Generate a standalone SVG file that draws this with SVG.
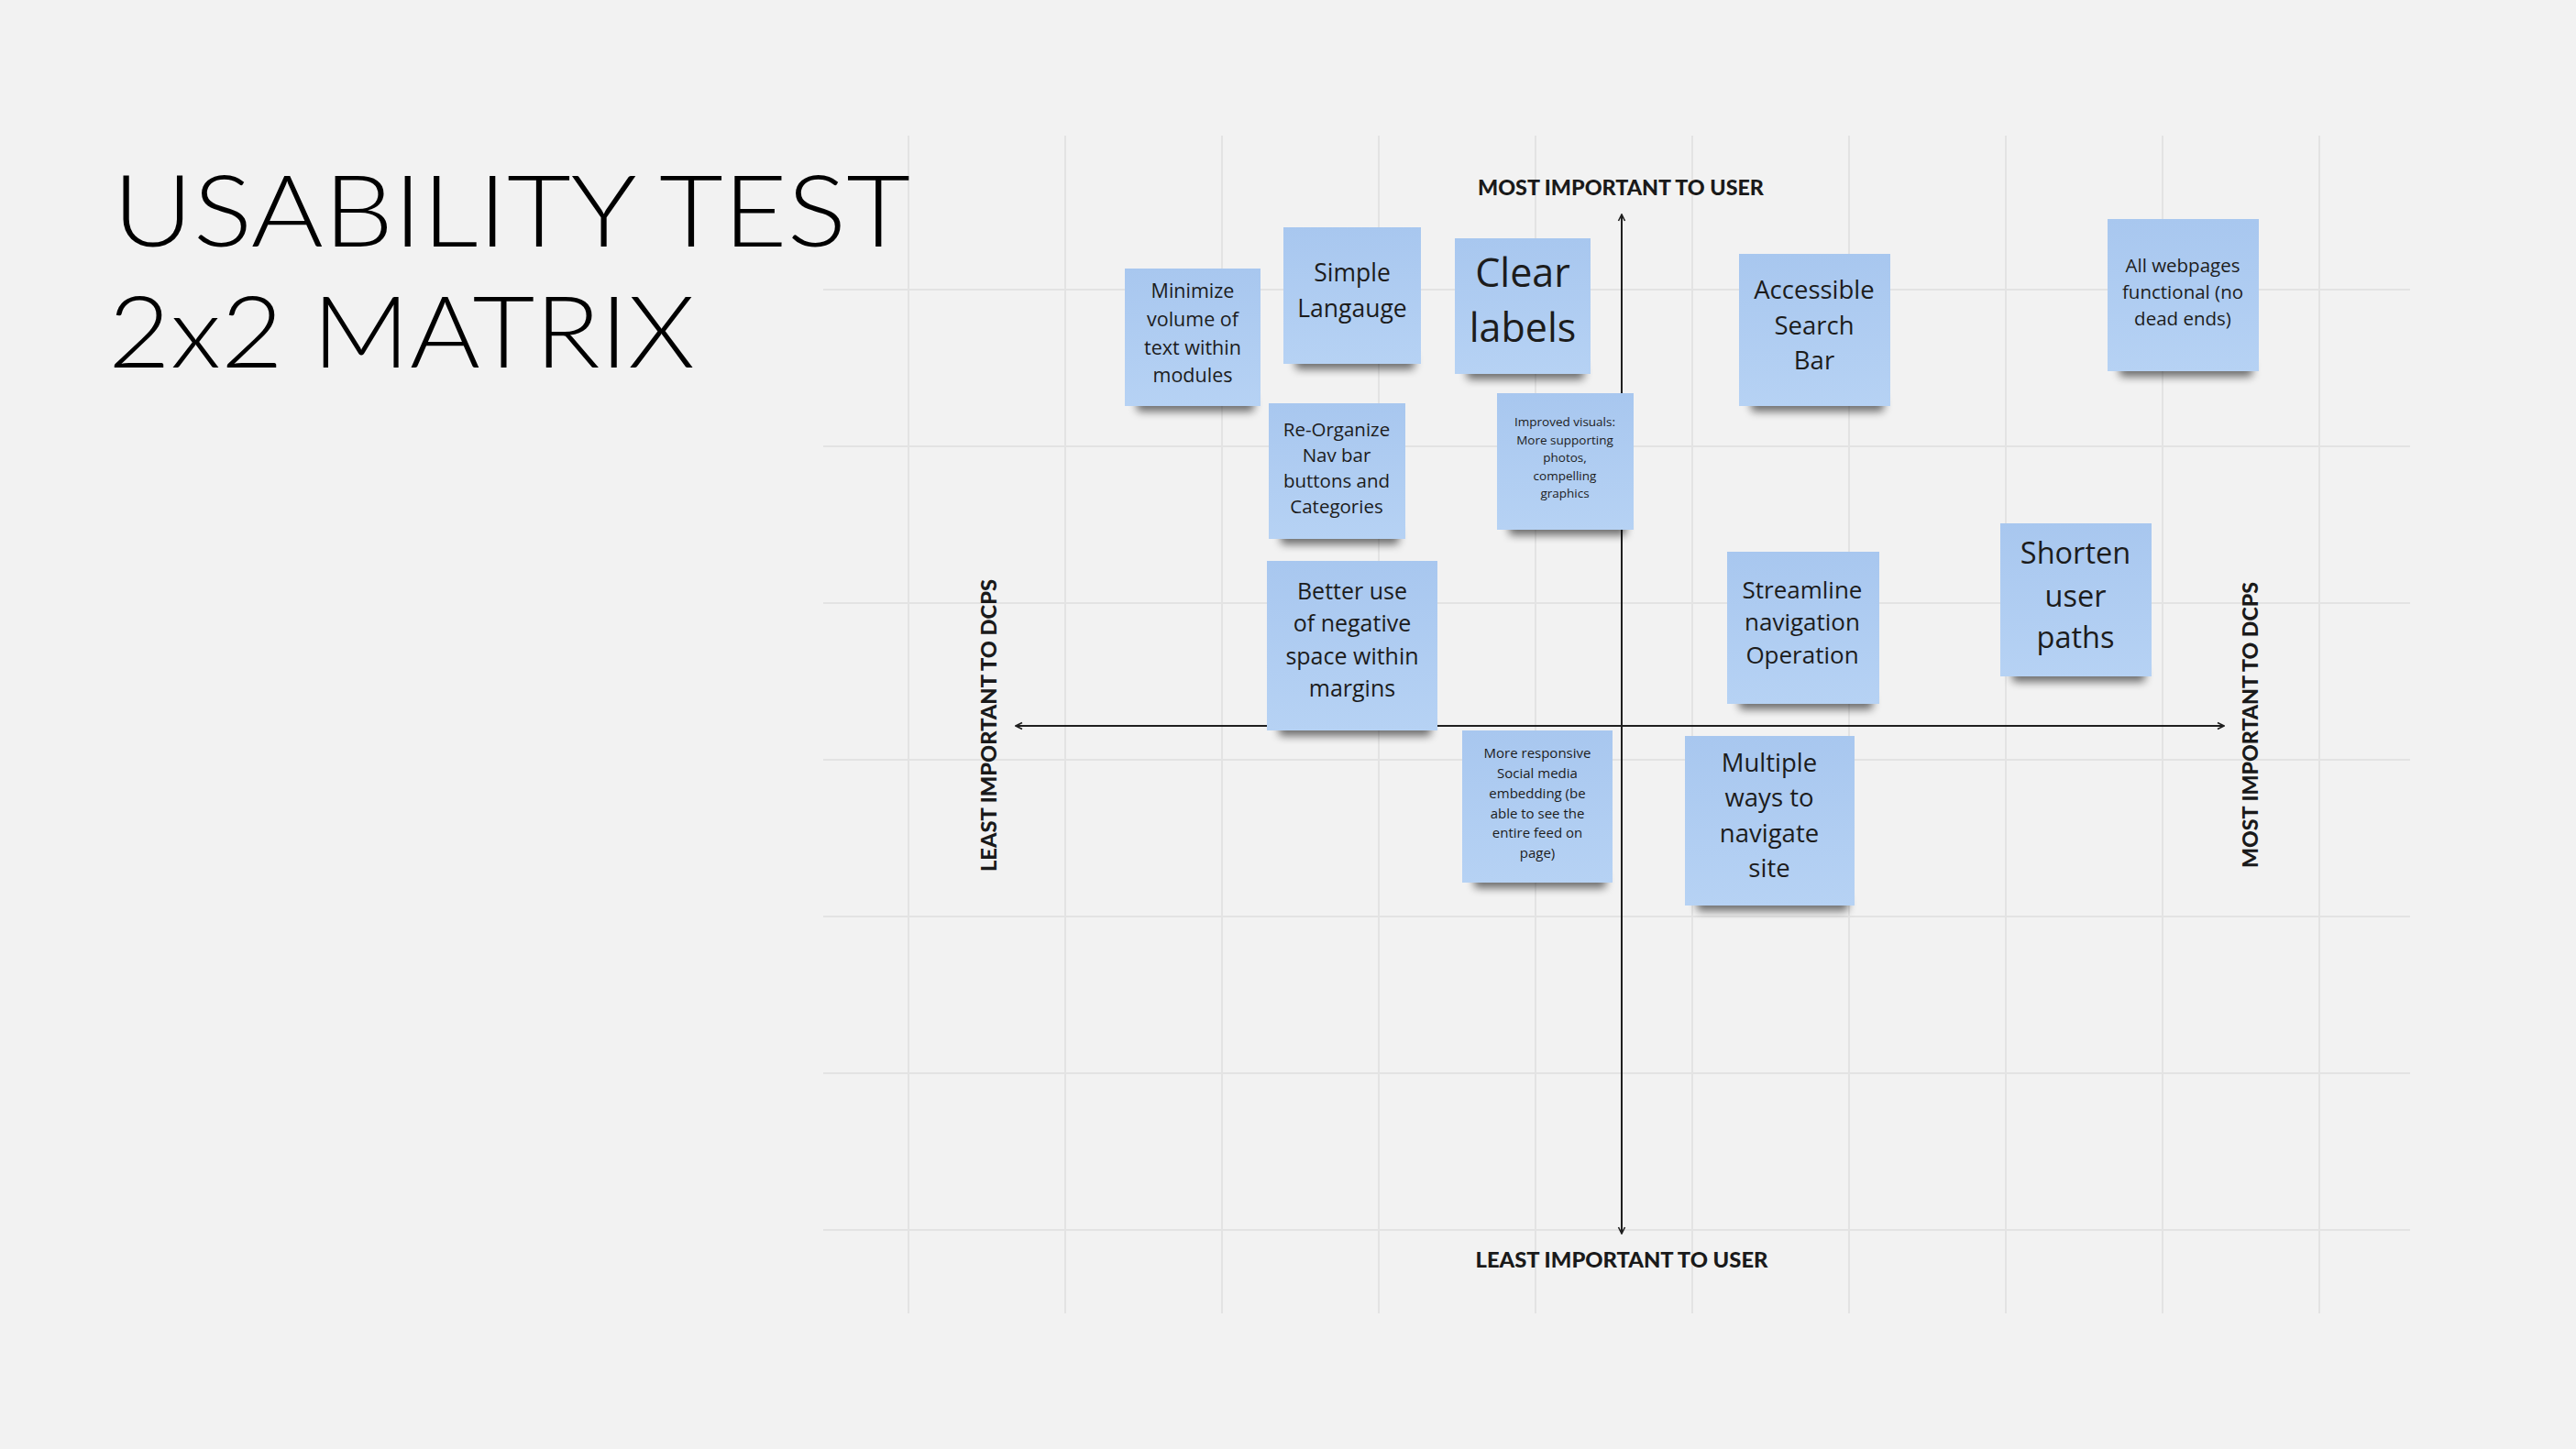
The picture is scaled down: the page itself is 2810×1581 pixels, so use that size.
<svg xmlns="http://www.w3.org/2000/svg" width="2810" height="1581" viewBox="0 0 2810 1581">
<defs>
<style>
.grid line{stroke:#e3e3e3;stroke-width:2}
.note{fill:url(#ng)}
.shadow{fill:#000;opacity:.55;filter:url(#sh)}
.nt{font-family:"Open Sans","Liberation Sans",sans-serif;fill:#1c1c1c;text-anchor:middle}
.axis{stroke:#1f1f1f;stroke-width:2;fill:none}
.albl{font-family:Lato,"Liberation Sans",sans-serif;font-weight:900;font-size:22px;fill:#1a1a1a;text-anchor:middle}
.title{font-family:Lato,"Liberation Sans",sans-serif;font-weight:300;font-size:108px;fill:#000}
</style>
<linearGradient id="ng" x1="0" y1="0" x2="0" y2="1">
<stop offset="0" stop-color="#a8c7ef"/>
<stop offset="1" stop-color="#b6d2f4"/>
</linearGradient>
<filter id="sh" x="-20%" y="-100%" width="140%" height="300%">
<feGaussianBlur stdDeviation="5"/>
</filter>
<marker id="arr" viewBox="0 0 10 10" refX="9" refY="5" markerWidth="10" markerHeight="10" markerUnits="userSpaceOnUse" orient="auto-start-reverse">
<path d="M2,1.5 L9,5 L2,8.5" fill="none" stroke="#1f1f1f" stroke-width="1.6"/>
</marker>
</defs>
<rect width="2810" height="1581" fill="#f2f2f2"/>
<g class="grid">
<line x1="991" y1="148" x2="991" y2="1433"/>
<line x1="1162" y1="148" x2="1162" y2="1433"/>
<line x1="1333" y1="148" x2="1333" y2="1433"/>
<line x1="1504" y1="148" x2="1504" y2="1433"/>
<line x1="1675" y1="148" x2="1675" y2="1433"/>
<line x1="1846" y1="148" x2="1846" y2="1433"/>
<line x1="2017" y1="148" x2="2017" y2="1433"/>
<line x1="2188" y1="148" x2="2188" y2="1433"/>
<line x1="2359" y1="148" x2="2359" y2="1433"/>
<line x1="2530" y1="148" x2="2530" y2="1433"/>
<line x1="898" y1="316" x2="2629" y2="316"/>
<line x1="898" y1="487" x2="2629" y2="487"/>
<line x1="898" y1="658" x2="2629" y2="658"/>
<line x1="898" y1="829" x2="2629" y2="829"/>
<line x1="898" y1="1000" x2="2629" y2="1000"/>
<line x1="898" y1="1171" x2="2629" y2="1171"/>
<line x1="898" y1="1342" x2="2629" y2="1342"/>
</g>
<g id="title">
<text class="title" x="123" y="269" textLength="870" lengthAdjust="spacingAndGlyphs">USABILITY TEST</text>
<text class="title" x="118" y="401" textLength="640" lengthAdjust="spacingAndGlyphs">2x2 MATRIX</text>
</g>
<g id="connectors">
<line class="axis" x1="1769" y1="234" x2="1769" y2="1346" marker-start="url(#arr)" marker-end="url(#arr)"/>
<line class="axis" x1="1108" y1="792" x2="2426" y2="792" marker-start="url(#arr)" marker-end="url(#arr)"/>
</g>
<g id="label-top"><text class="albl" x="1768" y="213" textLength="312" lengthAdjust="spacingAndGlyphs">MOST IMPORTANT TO USER</text></g>
<g id="label-bottom"><text class="albl" x="1769" y="1383" textLength="319" lengthAdjust="spacingAndGlyphs">LEAST IMPORTANT TO USER</text></g>
<g id="label-left"><text class="albl" transform="translate(1087,791.5) rotate(-90)" x="0" y="0" textLength="319" lengthAdjust="spacingAndGlyphs">LEAST IMPORTANT TO DCPS</text></g>
<g id="label-right"><text class="albl" transform="translate(2463,791) rotate(-90)" x="0" y="0" textLength="312" lengthAdjust="spacingAndGlyphs">MOST IMPORTANT TO DCPS</text></g>

<g id="note-minimize">
<rect class="shadow" x="1240" y="433" width="128" height="16" rx="4"/>
<rect class="note" x="1227" y="293" width="148" height="150"/>
<text class="nt" font-size="21.5"><tspan x="1301" y="325">Minimize</tspan><tspan x="1301" y="356">volume of</tspan><tspan x="1301" y="387">text within</tspan><tspan x="1301" y="417">modules</tspan></text>
</g>
<g id="note-simple">
<rect class="shadow" x="1413" y="387" width="130" height="16" rx="4"/>
<rect class="note" x="1400" y="248" width="150" height="149"/>
<text class="nt" font-size="26.5"><tspan x="1475" y="307">Simple</tspan><tspan x="1475" y="346">Langauge</tspan></text>
</g>
<g id="note-clear">
<rect class="shadow" x="1600" y="398" width="128" height="16" rx="4"/>
<rect class="note" x="1587" y="260" width="148" height="148"/>
<text class="nt" font-size="43"><tspan x="1661" y="313">Clear</tspan><tspan x="1661" y="373">labels</tspan></text>
</g>
<g id="note-improved">
<rect class="shadow" x="1646" y="568" width="128" height="16" rx="4"/>
<rect class="note" x="1633" y="429" width="149" height="149"/>
<text class="nt" font-size="13.5"><tspan x="1707" y="465">Improved visuals:</tspan><tspan x="1707" y="485">More supporting</tspan><tspan x="1707" y="504">photos,</tspan><tspan x="1707" y="524">compelling</tspan><tspan x="1707" y="543">graphics</tspan></text>
</g>
<g id="note-accessible">
<rect class="shadow" x="1910" y="433" width="145" height="16" rx="4"/>
<rect class="note" x="1897" y="277" width="165" height="166"/>
<text class="nt" font-size="27.5"><tspan x="1979" y="326">Accessible</tspan><tspan x="1979" y="365">Search</tspan><tspan x="1979" y="403">Bar</tspan></text>
</g>
<g id="note-allwebpages">
<rect class="shadow" x="2312" y="395" width="145" height="16" rx="4"/>
<rect class="note" x="2299" y="239" width="165" height="166"/>
<text class="nt" font-size="20.5"><tspan x="2381" y="297">All webpages</tspan><tspan x="2381" y="326">functional (no</tspan><tspan x="2381" y="355">dead ends)</tspan></text>
</g>
<g id="note-reorganize">
<rect class="shadow" x="1397" y="578" width="129" height="16" rx="4"/>
<rect class="note" x="1384" y="440" width="149" height="148"/>
<text class="nt" font-size="20.5"><tspan x="1458" y="476">Re-Organize</tspan><tspan x="1458" y="504">Nav bar</tspan><tspan x="1458" y="532">buttons and</tspan><tspan x="1458" y="560">Categories</tspan></text>
</g>
<g id="note-betteruse">
<rect class="shadow" x="1395" y="787" width="166" height="16" rx="4"/>
<rect class="note" x="1382" y="612" width="186" height="185"/>
<text class="nt" font-size="25"><tspan x="1475" y="654">Better use</tspan><tspan x="1475" y="689">of negative</tspan><tspan x="1475" y="725">space within</tspan><tspan x="1475" y="760">margins</tspan></text>
</g>
<g id="note-streamline">
<rect class="shadow" x="1897" y="758" width="146" height="16" rx="4"/>
<rect class="note" x="1884" y="602" width="166" height="166"/>
<text class="nt" font-size="26"><tspan x="1966" y="653">Streamline</tspan><tspan x="1966" y="688">navigation</tspan><tspan x="1966" y="724">Operation</tspan></text>
</g>
<g id="note-shorten">
<rect class="shadow" x="2195" y="728" width="145" height="16" rx="4"/>
<rect class="note" x="2182" y="571" width="165" height="167"/>
<text class="nt" font-size="32.5"><tspan x="2264" y="615">Shorten</tspan><tspan x="2264" y="662">user</tspan><tspan x="2264" y="707">paths</tspan></text>
</g>
<g id="note-moreresponsive">
<rect class="shadow" x="1608" y="953" width="144" height="16" rx="4"/>
<rect class="note" x="1595" y="797" width="164" height="166"/>
<text class="nt" font-size="15"><tspan x="1677" y="827">More responsive</tspan><tspan x="1677" y="849">Social media</tspan><tspan x="1677" y="871">embedding (be</tspan><tspan x="1677" y="893">able to see the</tspan><tspan x="1677" y="914">entire feed on</tspan><tspan x="1677" y="936">page)</tspan></text>
</g>
<g id="note-multiple">
<rect class="shadow" x="1851" y="978" width="165" height="16" rx="4"/>
<rect class="note" x="1838" y="803" width="185" height="185"/>
<text class="nt" font-size="27.5"><tspan x="1930" y="842">Multiple</tspan><tspan x="1930" y="880">ways to</tspan><tspan x="1930" y="919">navigate</tspan><tspan x="1930" y="957">site</tspan></text>
</g>
</svg>
